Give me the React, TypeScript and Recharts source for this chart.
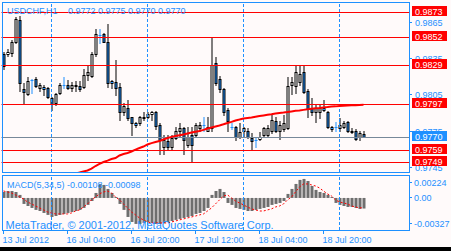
import React from 'react';
import { ComposedChart, Bar, Line, XAxis, YAxis, ReferenceLine } from 'recharts';

const BLUE = '#1e90ff';
const RED = '#ff0000';
const BG = '#fffafa';
const FONT = '"Liberation Sans", Arial, sans-serif';

// USDCHF H1, last bar of 13 Jul (cut by the frame) up to 18 Jul 2012 23:00
const open = [
  0.9838, 0.9838, 0.9839, 0.9848, 0.9866, 0.9809, 0.9805, 0.9817, 0.9818, 0.981, 0.9811, 0.981, 0.9802, 0.9798, 0.9806,
  0.9813, 0.9813, 0.981, 0.9812, 0.9812, 0.9811, 0.9821, 0.982, 0.9838, 0.9854, 0.9855, 0.9848, 0.9816, 0.9815, 0.9811,
  0.979, 0.9794, 0.9786, 0.9781, 0.9781, 0.9785, 0.9786, 0.9789, 0.979, 0.978, 0.9761, 0.9766, 0.9761, 0.9769, 0.9775,
  0.9777, 0.9763, 0.9771, 0.9771, 0.9777, 0.978, 0.9775, 0.9777, 0.9831, 0.9818, 0.9809, 0.9792, 0.9778, 0.9778, 0.977,
  0.9775, 0.9775, 0.9769, 0.9767, 0.9768, 0.9771, 0.9771, 0.9775, 0.9783, 0.9775, 0.9776, 0.9777, 0.9813, 0.9812, 0.9815,
  0.9823, 0.9808, 0.9794, 0.979, 0.979, 0.9794, 0.979, 0.9778, 0.9778, 0.9777, 0.9778, 0.9782, 0.9775, 0.9775, 0.977,
  0.9772,
];
const high = [
  0.984, 0.9842, 0.985, 0.9869, 0.987, 0.9814, 0.9819, 0.9818, 0.9819, 0.9814, 0.9813, 0.9811, 0.9803, 0.9806, 0.9814,
  0.9819, 0.9817, 0.9815, 0.9816, 0.9816, 0.9826, 0.9828, 0.984, 0.9859, 0.9859, 0.9856, 0.9863, 0.9817, 0.9833, 0.9814,
  0.9798, 0.98, 0.9786, 0.9782, 0.9787, 0.979, 0.979, 0.9791, 0.9791, 0.9781, 0.9771, 0.9771, 0.9771, 0.9778, 0.9781,
  0.9778, 0.9778, 0.9778, 0.9781, 0.9782, 0.9786, 0.9786, 0.9852, 0.9836, 0.982, 0.981, 0.9794, 0.9781, 0.9779, 0.9781,
  0.9778, 0.9777, 0.9773, 0.977, 0.9774, 0.9778, 0.978, 0.9788, 0.9786, 0.9783, 0.9788, 0.9819, 0.9819, 0.9828, 0.9828,
  0.9828, 0.9809, 0.9802, 0.9796, 0.9796, 0.98, 0.9791, 0.9779, 0.9782, 0.9785, 0.9783, 0.9783, 0.9777, 0.9776, 0.9775,
  0.9775,
];
const low = [
  0.9826, 0.9837, 0.9837, 0.9847, 0.9808, 0.9797, 0.9804, 0.9806, 0.9811, 0.9808, 0.9804, 0.9802, 0.9792, 0.9796, 0.9805,
  0.981, 0.9809, 0.9808, 0.9808, 0.9808, 0.981, 0.9817, 0.9819, 0.9837, 0.9847, 0.9848, 0.9811, 0.981, 0.9804, 0.9784,
  0.9788, 0.9784, 0.9771, 0.9778, 0.978, 0.9784, 0.9785, 0.9784, 0.9776, 0.9756, 0.9756, 0.9759, 0.976, 0.9768, 0.977,
  0.9756, 0.9761, 0.9749, 0.977, 0.9775, 0.9775, 0.9775, 0.9775, 0.9813, 0.9807, 0.9788, 0.9775, 0.9776, 0.9767, 0.9769,
  0.977, 0.9769, 0.9759, 0.9761, 0.9767, 0.977, 0.977, 0.9773, 0.9774, 0.9768, 0.9775, 0.9776, 0.9805, 0.9806, 0.9813,
  0.9806, 0.9786, 0.9788, 0.9782, 0.9785, 0.9791, 0.9777, 0.9775, 0.9775, 0.9775, 0.9777, 0.9774, 0.9773, 0.9767, 0.9767,
  0.977,
];
const close = [
  0.9828, 0.984, 0.9848, 0.9867, 0.9814, 0.9807, 0.9816, 0.9817, 0.9812, 0.9813, 0.9809, 0.9803, 0.9797, 0.9805, 0.9813,
  0.9813, 0.981, 0.9813, 0.9813, 0.9809, 0.9821, 0.9823, 0.9838, 0.9855, 0.9854, 0.9848, 0.9814, 0.9814, 0.981, 0.979,
  0.9795, 0.9785, 0.9781, 0.978, 0.9786, 0.9786, 0.9789, 0.979, 0.9779, 0.9767, 0.9767, 0.9761, 0.9769, 0.9775, 0.9777,
  0.9767, 0.977, 0.9763, 0.978, 0.978, 0.978, 0.9778, 0.9829, 0.9814, 0.9809, 0.979, 0.9783, 0.9778, 0.977, 0.9774,
  0.9777, 0.977, 0.9766, 0.9767, 0.977, 0.9777, 0.9777, 0.9784, 0.9775, 0.978, 0.9781, 0.9812, 0.9815, 0.9823, 0.9822,
  0.9807, 0.9793, 0.979, 0.9794, 0.9794, 0.9792, 0.9778, 0.9776, 0.9778, 0.978, 0.9781, 0.9775, 0.9774, 0.9768, 0.9773,
  0.977,
];

// red moving average on the price window (first 18 bars have none on screen)
const ma = [
  null, null, null, null, null, null, null, null, null, null, null, null, null, null, null, null, null, null,
  0.97399, 0.97407, 0.97416, 0.97424, 0.9744, 0.97461, 0.97478, 0.97494, 0.97506, 0.97519, 0.97527, 0.97548, 0.9756,
  0.97569, 0.97581, 0.97597, 0.9761, 0.97622, 0.97639, 0.9765, 0.97659, 0.97668, 0.9768, 0.97692, 0.97702, 0.97709,
  0.97715, 0.97721, 0.9773, 0.97738, 0.97744, 0.9775, 0.9776, 0.97771, 0.97779, 0.97788, 0.97796, 0.97806, 0.97817,
  0.97826, 0.97837, 0.97845, 0.97854, 0.97858, 0.97862, 0.97868, 0.97874, 0.97879, 0.97884, 0.97889, 0.97895, 0.979,
  0.97903, 0.97907, 0.97912, 0.97917, 0.9792, 0.97925, 0.9793, 0.97934, 0.97938, 0.97941, 0.97945, 0.97948, 0.97952,
  0.97954, 0.97957, 0.97959, 0.97961, 0.97963, 0.97964, 0.97965, 0.97967,
];

// MACD(5,34,5)
const macdMain = [
  0.00061, 0.00071, 0.00071, 0.00061, 0.00031, -0.00061, -0.00082, -0.00102, -0.00122, -0.00133, -0.00153, -0.00173,
  -0.00194, -0.00184, -0.00173, -0.00163, -0.00153, -0.00143, -0.00133, -0.00122, -0.00102, -0.00071, -0.00031, 0.00051,
  0.00143, 0.00133, 0.00092, 0.00051, 0.0001, -0.00061, -0.00122, -0.00194, -0.00245, -0.00265, -0.00265, -0.00255,
  -0.00245, -0.00255, -0.00265, -0.00265, -0.00255, -0.00245, -0.00235, -0.00224, -0.00214, -0.00204, -0.00194,
  -0.00184, -0.00163, -0.00153, -0.00133, -0.00102, 0.00031, 0.00071, 0.00092, 0.00061, -0.00051, -0.00071, -0.00102,
  -0.00112, -0.00122, -0.00133, -0.00133, -0.00122, -0.00112, -0.00102, -0.00092, -0.00071, -0.00061, -0.00051,
  -0.00031, 0.00041, 0.00092, 0.00143, 0.00184, 0.00194, 0.00173, 0.00122, 0.00082, 0.00061, 0.00051, 0.00031, 0.0001,
  -0.00051, -0.00071, -0.00082, -0.00092, -0.00092, -0.00102, -0.00112, -0.00108,
];
const macdSignal = [
  0.00071, 0.00061, 0.00051, 0.00031, 0.0001, -0.0001, -0.00041, -0.00061, -0.00082, -0.00102, -0.00122, -0.00143,
  -0.00153, -0.00163, -0.00163, -0.00163, -0.00163, -0.00153, -0.00133, -0.00122, -0.00092, -0.00061, -0.0002, 0.0001,
  0.00041, 0.00061, 0.00071, 0.00051, 0.0001, -0.0002, -0.00061, -0.00102, -0.00143, -0.00173, -0.00204, -0.00224,
  -0.00245, -0.00255, -0.00255, -0.00255, -0.00255, -0.00255, -0.00245, -0.00235, -0.00224, -0.00214, -0.00204,
  -0.00194, -0.00184, -0.00173, -0.00163, -0.00133, -0.00102, -0.00061, -0.0002, 0.0002, 0.00031, 0, -0.00031, -0.00051,
  -0.00071, -0.00092, -0.00112, -0.00122, -0.00133, -0.00133, -0.00122, -0.00112, -0.00092, -0.00082, -0.00061, -0.0002,
  0.0001, 0.00061, 0.00112, 0.00143, 0.00143, 0.00133, 0.00122, 0.00102, 0.00071, 0.00041, 0.0002, -0.0002, -0.00041,
  -0.00051, -0.00061, -0.00082, -0.00092, -0.00102, -0.00098,
];

const levels = [0.9873, 0.9852, 0.9829, 0.9797, 0.9759, 0.9749];
const lastPrice = 0.977;
const priceTicks = [0.9865, 0.9835, 0.9805, 0.9775, 0.9745];
const macdTicks = [0.00224, 0, -0.00327];
const macdTickLabels = ['0.00224', '0.00', '-0.00327'];
const dayStarts = [12, 36, 60, 84];
const timeSlots = [0, 16, 32, 48, 64, 80];
const timeLabels = ['13 Jul 2012', '16 Jul 04:00', '16 Jul 20:00', '17 Jul 12:00', '18 Jul 04:00', '18 Jul 20:00'];
const EMPTY_SLOTS = 11; // chart shift on the right

const rows = Array.from({ length: open.length + EMPTY_SLOTS }, (_, k) =>
  k < open.length
    ? {
        slot: k,
        open: open[k],
        high: high[k],
        low: low[k],
        close: close[k],
        ma: ma[k],
        hist: macdMain[k],
        signal: macdSignal[k],
      }
    : { slot: k },
);

// plain ticks first, price tags after them so the tags cover the ticks
const axisValues = [...priceTicks, ...levels, lastPrice];

const snap = (v: number) => Math.floor(v) + 0.5;
const last = (a: number[]) => a[a.length - 1];

const Candle = (p: any) => {
  const { x, y, width, height, payload } = p;
  if (payload == null || payload.high == null) return null;
  const top = Math.min(y, y + height);
  const h = Math.abs(height);
  const range = payload.high - payload.low;
  const toY = (v: number) => (range === 0 ? top : top + ((payload.high - v) / range) * h);
  const cx = x + width / 2;
  const yO = snap(toY(payload.open));
  const yC = snap(toY(payload.close));
  const yH = snap(top);
  const yL = snap(top + h);
  if (payload.open === payload.close) {
    return (
      <g>
        <line x1={cx} x2={cx} y1={yH - 0.5} y2={yL + 0.5} stroke={BLUE} />
        <line x1={x} x2={x + width} y1={yO} y2={yO} stroke={BLUE} />
      </g>
    );
  }
  const up = payload.close > payload.open;
  const bTop = Math.min(yO, yC);
  const bBot = Math.max(yO, yC);
  return (
    <g>
      <line x1={cx} x2={cx} y1={yH - 0.5} y2={yL + 0.5} stroke="#000" />
      <rect x={x + 0.5} y={bTop} width={width - 1} height={bBot - bTop} fill={up ? '#ffffff' : BLUE} stroke="#000" />
    </g>
  );
};

const SnapLine = (p: any) => {
  const vertical = p.x1 === p.x2;
  return (
    <line
      x1={vertical ? snap(p.x1) : p.x1}
      x2={vertical ? snap(p.x2) : p.x2}
      y1={vertical ? p.y1 : snap(p.y1)}
      y2={vertical ? p.y2 : snap(p.y2)}
      stroke={p.stroke}
      strokeWidth={1}
      strokeDasharray={p.strokeDasharray}
    />
  );
};

const PriceTick = ({ y, payload }: any) => {
  const yy = snap(y);
  const v = payload.value;
  if (levels.includes(v) || v === lastPrice) {
    return (
      <g>
        <rect x={412} y={yy - 6.5} width={35} height={10} fill={v === lastPrice ? BLUE : RED} />
        <text x={415} y={yy + 2.5} fill="#fff" fontSize={9} fontFamily={FONT}>
          {v.toFixed(4)}
        </text>
      </g>
    );
  }
  return (
    <g>
      <line x1={410} x2={412} y1={yy} y2={yy} stroke={BLUE} />
      <text x={415} y={yy + 3} fill={BLUE} fontSize={9} fontFamily={FONT}>
        {v.toFixed(4)}
      </text>
    </g>
  );
};

const MacdTick = ({ y, payload }: any) => {
  const i = macdTicks.indexOf(payload.value);
  const shift = i === 0 ? 6.5 : i === macdTicks.length - 1 ? -6.5 : -0.5;
  const yy = snap(y + shift);
  return (
    <g>
      <line x1={410} x2={412} y1={yy} y2={yy} stroke={BLUE} />
      <text x={414} y={yy + 3} fill={BLUE} fontSize={9} fontFamily={FONT}>
        {macdTickLabels[i]}
      </text>
    </g>
  );
};

const MACD_BOTTOM = 60;

const TimeTick = ({ x, payload }: any) => {
  const xx = snap(x);
  const i = timeSlots.indexOf(payload.value);
  return (
    <g>
      <line x1={xx} x2={xx} y1={MACD_BOTTOM + 1} y2={MACD_BOTTOM + 4} stroke={BLUE} />
      <text x={xx - 1} y={MACD_BOTTOM + 13} fill={BLUE} fontSize={9} fontFamily={FONT}>
        {timeLabels[i]}
      </text>
    </g>
  );
};

export default function App() {
  const header = [open, high, low, close].map((a) => last(a).toFixed(4)).join(' ');
  const macdHeader = `MACD(5,34,5) ${last(macdMain).toFixed(5)} ${last(macdSignal).toFixed(5)}`;

  return (
    <div style={{ position: 'absolute', left: 0, top: 0, width: 451, height: 251, background: '#000' }}>
      <div style={{ position: 'absolute', left: 0, top: 0, width: 451, height: 247, background: BG }} />

      <div style={{ position: 'absolute', left: 0, top: 0 }}>
        <ComposedChart width={451} height={175} data={rows} margin={{ top: 3, right: 0, bottom: 3, left: 1.5 }}>
          <XAxis dataKey="slot" hide />
          <YAxis
            orientation="right"
            width={41.5}
            domain={[0.974115, 0.988085]}
            allowDataOverflow
            ticks={axisValues}
            interval={0}
            axisLine={false}
            tickLine={false}
            tick={<PriceTick />}
          />
          {dayStarts.map((s) => (
            <ReferenceLine key={'d' + s} x={s} stroke={BLUE} strokeDasharray="3 2" shape={<SnapLine />} />
          ))}
          {levels.map((v) => (
            <ReferenceLine key={v} y={v} stroke={RED} shape={<SnapLine />} />
          ))}
          <ReferenceLine y={lastPrice} stroke="#778899" shape={<SnapLine />} />
          <Bar
            dataKey={(d: any) => (d.high == null ? null : [d.low, d.high])}
            barSize={3}
            shape={(p: any) => <Candle {...p} />}
            isAnimationActive={false}
          />
          <Line dataKey="ma" stroke={RED} strokeWidth={2} dot={false} activeDot={false} isAnimationActive={false} />
        </ComposedChart>
      </div>

      <div style={{ position: 'absolute', left: 0, top: 170 }}>
        <ComposedChart width={451} height={81} data={rows} margin={{ top: 6, right: 0, bottom: 0, left: 1.5 }}>
          <XAxis
            dataKey="slot"
            ticks={timeSlots}
            interval={0}
            height={21}
            axisLine={false}
            tickLine={false}
            tick={<TimeTick />}
          />
          <YAxis
            orientation="right"
            width={41.5}
            domain={[-0.00327, 0.00224]}
            allowDataOverflow
            ticks={macdTicks}
            interval={0}
            axisLine={false}
            tickLine={false}
            tick={<MacdTick />}
          />
          {dayStarts.map((s) => (
            <ReferenceLine key={'m' + s} x={s} stroke={BLUE} strokeDasharray="3 2" shape={<SnapLine />} />
          ))}
          <Bar dataKey="hist" fill="#6e6e6e" barSize={3} isAnimationActive={false} />
          <Line
            dataKey="signal"
            stroke={RED}
            strokeWidth={1}
            strokeDasharray="2 2"
            dot={false}
            activeDot={false}
            isAnimationActive={false}
          />
        </ComposedChart>
      </div>

      <svg
        width={451}
        height={251}
        style={{ position: 'absolute', left: 0, top: 0, pointerEvents: 'none' }}
        fontFamily={FONT}
      >
        <rect x={2.5} y={2.5} width={407} height={170} fill="none" stroke={BLUE} />
        <rect x={2.5} y={175.5} width={407} height={55} fill="none" stroke={BLUE} />
        <text x={7} y={14} fontSize={9} fill={BLUE}>
          USDCHF,H1
        </text>
        <text x={68} y={14} fontSize={9} fill={BLUE}>
          {header}
        </text>
        <text x={7} y={188} fontSize={9} fill={BLUE}>
          {macdHeader}
        </text>
        <text x={5.5} y={229} fontSize={11} fill={BLUE}>
          MetaTrader, © 2001-2012, MetaQuotes Software Corp.
        </text>
      </svg>
    </div>
  );
}
